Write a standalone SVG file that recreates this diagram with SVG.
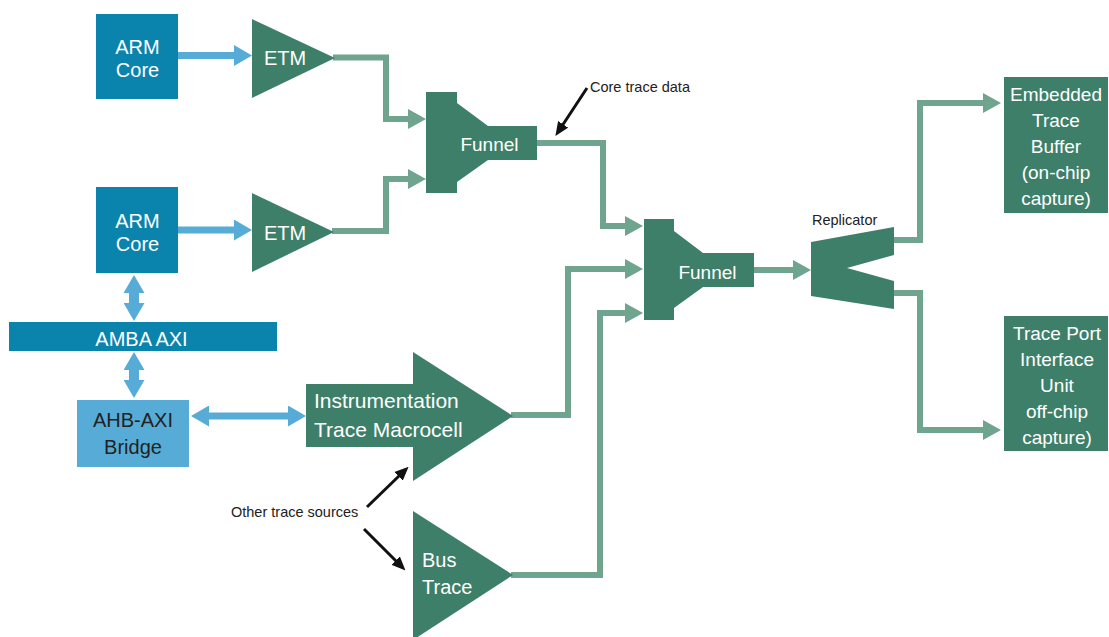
<svg xmlns="http://www.w3.org/2000/svg" width="1109" height="637" viewBox="0 0 1109 637">
<style>
.node{fill:#3e7f69}
.arm{fill:#0a83ad}
.bridge{fill:#56acd6}
.wt{fill:#ffffff;font-family:"Liberation Sans",Arial,sans-serif}
.dk{fill:#222222;font-family:"Liberation Sans",Arial,sans-serif}
.lbl{fill:#222222;font-family:"Liberation Sans",Arial,sans-serif;font-size:14.5px}
.g{fill:none;stroke:#6fa48e;stroke-width:6;marker-end:url(#ga)}
.b{fill:none;stroke:#56acd6;stroke-width:7}
.bv{fill:none;stroke:#56acd6;stroke-width:10}
.k{fill:none;stroke:#111111;stroke-width:3;marker-end:url(#ka)}
</style>
<defs>
<marker id="ga" markerUnits="userSpaceOnUse" markerWidth="18" markerHeight="20" refX="0" refY="10" orient="auto"><path d="M0,0 L18,10 L0,20 Z" fill="#6fa48e"/></marker>
<marker id="ba" markerUnits="userSpaceOnUse" markerWidth="18" markerHeight="21" refX="0" refY="10.5" orient="auto-start-reverse"><path d="M0,0 L18,10.5 L0,21 Z" fill="#56acd6"/></marker>
<marker id="ka" markerUnits="userSpaceOnUse" markerWidth="14" markerHeight="12" refX="2" refY="6" orient="auto"><path d="M0,0 L14,6 L0,12 Z" fill="#111111"/></marker>
</defs>

<g id="connectors">
<polyline class="b" points="178,55.5 234,55.5" marker-end="url(#ba)"/>
<polyline class="b" points="178,230 234,230" marker-end="url(#ba)"/>
<polyline class="bv" points="134,293 134,303" marker-start="url(#ba)" marker-end="url(#ba)"/>
<polyline class="bv" points="134,370 134,380" marker-start="url(#ba)" marker-end="url(#ba)"/>
<polyline class="b" points="209,416 288,416" marker-start="url(#ba)" marker-end="url(#ba)"/>
<polyline class="g" points="333,57.5 386,57.5 386,119 408,119"/>
<polyline class="g" points="332,231 386,231 386,179 408,179"/>
<polyline class="g" points="537,143 603,143 603,226 625,226"/>
<polyline class="g" points="511,415 568,415 568,269 625,269"/>
<polyline class="g" points="511,575 600,575 600,313 625,313"/>
<polyline class="g" points="754,270 793,270"/>
<polyline class="g" points="894,240 920,240 920,103 983,103"/>
<polyline class="g" points="894,293 920,293 920,430 983,430"/>
<line class="k" x1="587" y1="88" x2="562" y2="126"/>
<line class="k" x1="367" y1="507" x2="400" y2="475"/>
<line class="k" x1="364" y1="529" x2="397" y2="562"/>
</g>

<g id="arm-core-1">
<rect class="arm" x="96" y="14" width="82" height="85"/>
<text class="wt" x="137.5" y="54" font-size="20" text-anchor="middle">ARM</text>
<text class="wt" x="137.5" y="77" font-size="20" text-anchor="middle">Core</text>
</g>
<g id="arm-core-2">
<rect class="arm" x="96" y="187" width="82" height="86"/>
<text class="wt" x="137.5" y="228" font-size="20" text-anchor="middle">ARM</text>
<text class="wt" x="137.5" y="251" font-size="20" text-anchor="middle">Core</text>
</g>
<g id="amba-axi">
<rect class="arm" x="9" y="322" width="268" height="29"/>
<text class="wt" x="141.5" y="346" font-size="20" text-anchor="middle">AMBA AXI</text>
</g>
<g id="ahb-axi-bridge">
<rect class="bridge" x="77" y="400" width="112" height="67"/>
<text class="dk" x="133" y="427" font-size="20" text-anchor="middle">AHB-AXI</text>
<text class="dk" x="133" y="454" font-size="20" text-anchor="middle">Bridge</text>
</g>
<g id="etm-1">
<polygon class="node" points="252,19 335,58 252,98"/>
<text class="wt" x="264" y="65" font-size="20">ETM</text>
</g>
<g id="etm-2">
<polygon class="node" points="252,193 334,232 252,272"/>
<text class="wt" x="264" y="240" font-size="20">ETM</text>
</g>
<g id="funnel-1">
<polygon class="node" points="426,92 457,92 457,103 488,126 537,126 537,160 488,160 457,182 457,193 426,193"/>
<text class="wt" x="489.5" y="151" font-size="19" text-anchor="middle">Funnel</text>
</g>
<g id="funnel-2">
<polygon class="node" points="644,219 674,219 674,231 703,253 754,253 754,287 703,287 674,308 674,320 644,320"/>
<text class="wt" x="707.5" y="279" font-size="19" text-anchor="middle">Funnel</text>
</g>
<g id="itm">
<polygon class="node" points="306,384 413,384 413,352 513,416 413,481 413,447 306,447"/>
<text class="wt" x="314" y="408" font-size="21">Instrumentation</text>
<text class="wt" x="314" y="437" font-size="21">Trace Macrocell</text>
</g>
<g id="bus-trace">
<polygon class="node" points="413,511 513,575 413,640"/>
<text class="wt" x="422" y="567" font-size="20">Bus</text>
<text class="wt" x="422" y="594" font-size="20">Trace</text>
</g>
<g id="replicator">
<polygon class="node" points="811,242 894,227 894,255 847,268 894,281 894,309 811,296"/>
<text class="lbl" x="812" y="225">Replicator</text>
</g>
<g id="etb">
<rect class="node" x="1004" y="77" width="104" height="136"/>
<text class="wt" x="1056" y="101" font-size="19" text-anchor="middle">Embedded</text>
<text class="wt" x="1056" y="127" font-size="19" text-anchor="middle">Trace</text>
<text class="wt" x="1056" y="153" font-size="19" text-anchor="middle">Buffer</text>
<text class="wt" x="1056" y="179" font-size="19" text-anchor="middle">(on-chip</text>
<text class="wt" x="1056" y="205" font-size="19" text-anchor="middle">capture)</text>
</g>
<g id="tpiu">
<rect class="node" x="1004" y="316" width="104" height="135"/>
<text class="wt" x="1057" y="340" font-size="19" text-anchor="middle">Trace Port</text>
<text class="wt" x="1057" y="366" font-size="19" text-anchor="middle">Interface</text>
<text class="wt" x="1057" y="392" font-size="19" text-anchor="middle">Unit</text>
<text class="wt" x="1057" y="418" font-size="19" text-anchor="middle">off-chip</text>
<text class="wt" x="1057" y="444" font-size="19" text-anchor="middle">capture)</text>
</g>
<g id="labels">
<text class="lbl" x="590" y="92">Core trace data</text>
<text class="lbl" x="231" y="517">Other trace sources</text>
</g>
</svg>
